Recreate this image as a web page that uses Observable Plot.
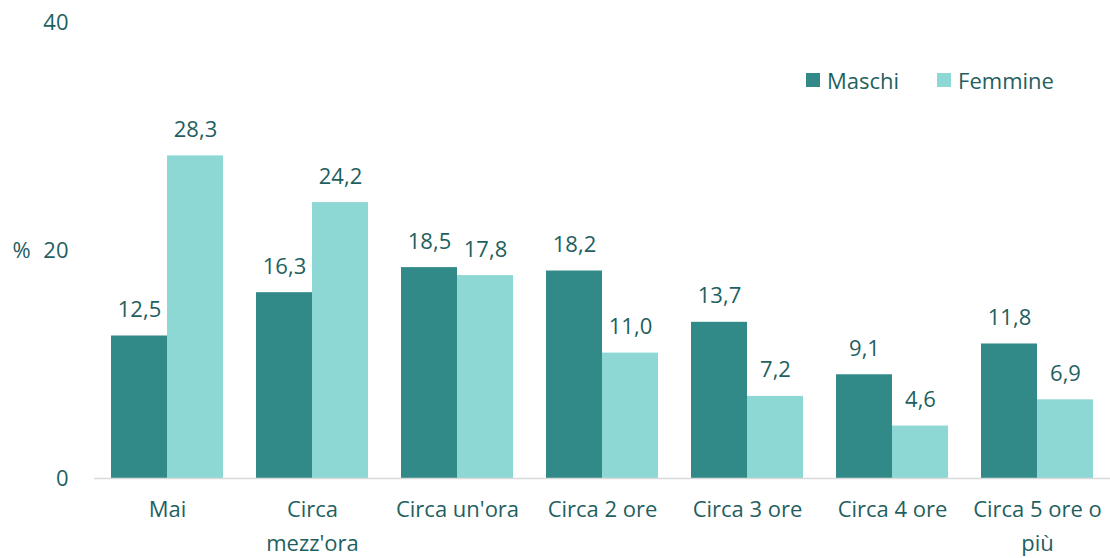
<!DOCTYPE html>
<html>
<head>
<meta charset="utf-8">
<script src="https://cdn.jsdelivr.net/npm/d3@7"></script>
<script src="https://cdn.jsdelivr.net/npm/@observablehq/plot@0.6"></script>
<style>
  body { margin: 0; background: #fff; }
  #wrap { position: relative; width: 1110px; height: 558px; font-family: "Open Sans", Lato, sans-serif; }
  #legend { position: absolute; left: 806px; top: 65px; display: flex; font-size: 22px; color: #1f5f5f; }
  .item { display: flex; align-items: center; margin-right: 38px; }
  .sw { width: 14px; height: 14px; margin-right: 7px; }
</style>
</head>
<body>
<div id="wrap"><div id="legend"></div></div>
<script>
const categories = ["Mai", "Circa mezz'ora", "Circa un'ora", "Circa 2 ore", "Circa 3 ore", "Circa 4 ore", "Circa 5 ore o più"];
const tickLabels = ["Mai", "Circa\nmezz'ora", "Circa un'ora", "Circa 2 ore", "Circa 3 ore", "Circa 4 ore", "Circa 5 ore o\npiù"];
const series = ["Maschi", "Femmine"];
const maschi = [12.5, 16.3, 18.5, 18.2, 13.7, 9.1, 11.8];
const femmine = [28.3, 24.2, 17.8, 11.0, 7.2, 4.6, 6.9];
const colors = ["#318a87", "#8dd7d5"];
const yTicks = [0, 20, 40];

const data = [];
categories.forEach((c, i) => {
  data.push({cat: c, serie: "Maschi", value: maschi[i]});
  data.push({cat: c, serie: "Femmine", value: femmine[i]});
});
const labelOf = new Map(categories.map((c, i) => [c, tickLabels[i]]));
const fmt = v => d3.format(".1f")(v).replace(".", ",");
const textColor = "#1f5f5f";

const chart = Plot.plot({
  width: 1110,
  height: 558,
  marginLeft: 93,
  marginRight: 0,
  marginTop: 22,
  marginBottom: 80,
  style: {fontFamily: "'Open Sans', Lato, sans-serif", fontSize: "22px", color: textColor, background: "transparent"},
  fx: {domain: categories, paddingInner: 0.23, paddingOuter: 0.115, label: null},
  x: {domain: series, padding: 0, axis: null},
  y: {domain: [0, 40], label: null},
  color: {domain: series, range: colors},
  marks: [
    Plot.axisY({ticks: yTicks, tickSize: 0, tickPadding: 43, label: null, tickFormat: d => String(d), fontSize: 22, fill: textColor}),
    Plot.axisFx({anchor: "bottom", tickSize: 0, tickPadding: 15, label: null, tickFormat: d => labelOf.get(d), lineHeight: 1.52, fontSize: 22, fill: textColor}),
    Plot.barY(data, {fx: "cat", x: "serie", y: "value", fill: "serie"}),
    Plot.ruleY([0], {stroke: "#d9d9d9", strokeWidth: 1.5, insetLeft: -17, insetRight: -17}),
    Plot.text(data, {fx: "cat", x: "serie", y: "value", text: d => fmt(d.value), lineAnchor: "bottom", dy: -19, fill: textColor, fontSize: 22}),
    Plot.text(["%"], {fx: ["Mai"], y: [20], text: d => d, frameAnchor: "left", textAnchor: "start", dx: -99, fill: textColor, fontSize: 22})
  ]
});
const wrap = document.getElementById("wrap");
wrap.insertBefore(chart, wrap.firstChild);

const legend = document.getElementById("legend");
series.forEach((s, i) => {
  const it = document.createElement("div");
  it.className = "item";
  const sw = document.createElement("div");
  sw.className = "sw";
  sw.style.background = colors[i];
  const t = document.createElement("span");
  t.textContent = s;
  it.appendChild(sw); it.appendChild(t);
  legend.appendChild(it);
});
</script>
</body>
</html>
